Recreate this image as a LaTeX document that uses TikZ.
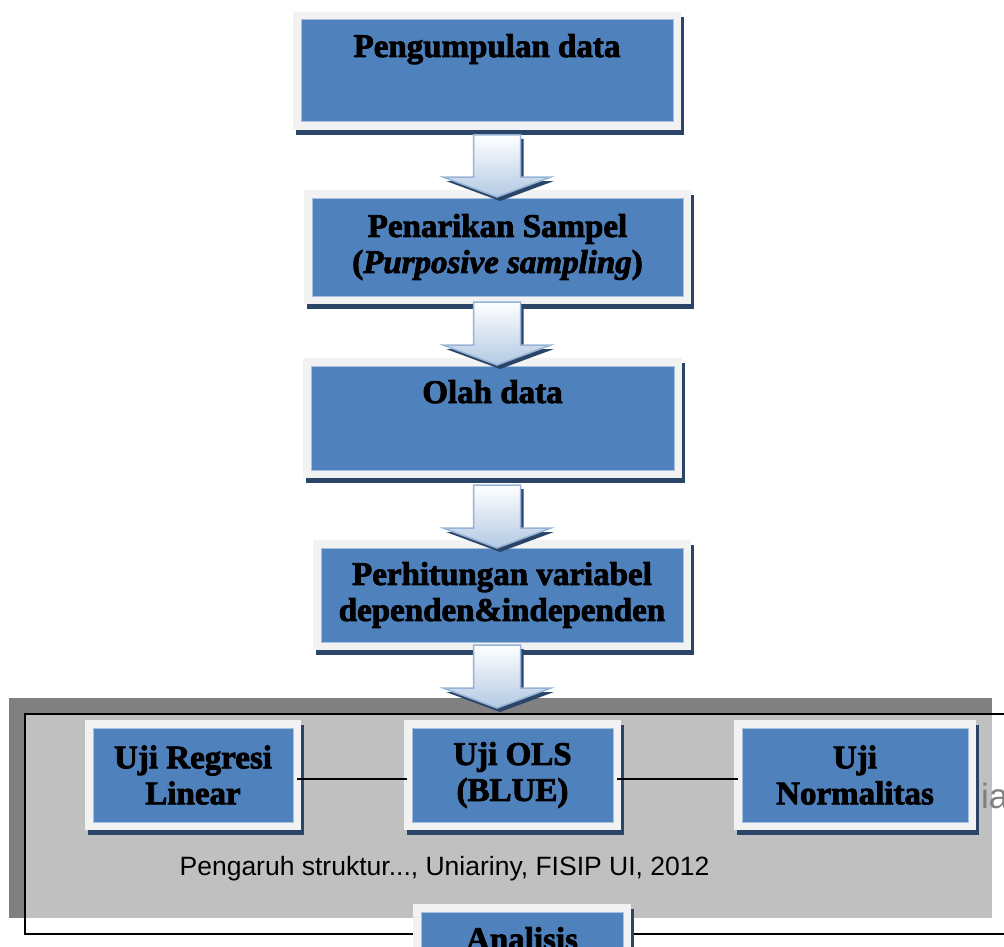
\documentclass[tikz,border=0pt]{standalone}
\usepackage{fontspec}
\setmainfont{Liberation Serif}
\setsansfont{Liberation Sans}
\newfontfamily\boxfamily{Liberation Serif}[BoldFeatures={FakeBold=2.5},BoldItalicFeatures={FakeBold=2.5}]
\usetikzlibrary{calc}
\definecolor{boxblue}{HTML}{4F81BD}
\definecolor{boxrim}{HTML}{F2F2F2}
\definecolor{boxshadow}{HTML}{2A4568}
\definecolor{boxedge}{HTML}{A7BFDE}
\definecolor{arrowline}{HTML}{95B3D7}
\definecolor{arrowfill}{HTML}{B3C9E3}
\definecolor{bgdark}{HTML}{808080}
\definecolor{bglight}{HTML}{C0C0C0}
\newcommand\myblockarrow[4]{%
  \fill[boxshadow, transform canvas={shift={(3pt,-4pt)}}]
    (#1-23.5,#2) -- (#1+23.5,#2) -- (#1+23.5,#3) -- (#1+54,#3) -- (#1,#4) -- (#1-54,#3) -- (#1-23.5,#3) -- cycle;
  \draw[arrowline, line width=1.5pt, line join=miter, top color=white, bottom color=arrowfill]
    (#1-23.5,#2) -- (#1+23.5,#2) -- (#1+23.5,#3) -- (#1+54,#3) -- (#1,#4) -- (#1-54,#3) -- (#1-23.5,#3) -- cycle;
}
\begin{document}
\begin{tikzpicture}[x=1pt,y=-1pt,
  bluebox/.style={rectangle, fill=boxblue, draw=boxedge, line width=1pt, inner sep=0pt, outer sep=0pt,
    align=center, text=black, font=\boxfamily\bfseries\fontsize{33}{36}\selectfont,
    preaction={fill=boxshadow, draw=boxshadow, line width=16pt, transform canvas={shift={(3pt,-5pt)}}},
    preaction={draw=boxrim, line width=16pt}},
  boxtext/.style={inner sep=0pt, text=black, font=\boxfamily\bfseries\fontsize{33}{36}\selectfont},
  conn/.style={draw=black, line width=1.2pt},
  frameline/.style={draw=black, line width=1.5pt}]
\useasboundingbox (0,0) rectangle (1004,947);
\clip (0,0) rectangle (1004,947);
% grey panel and frame
\fill[bgdark] (9,698) rectangle (992,918);
\fill[bglight] (26,714) rectangle (992,918);
\draw[frameline] (1010,714) -- (25,714) -- (25,934) -- (1010,934);
\node[font=\sffamily\fontsize{26.5}{30}\selectfont, anchor=base, inner sep=0pt] (src) at (444.5,875) {Pengaruh struktur..., Uniariny, FISIP UI, 2012};
\node[font=\sffamily\fontsize{35}{40}\selectfont, text=bgdark, anchor=base west, inner sep=0pt] (cut) at (981,808) {ia};
% main column
\node[bluebox, minimum width=372pt, minimum height=102pt] (b1) at (487,71) {};
\node[boxtext, anchor=base] (t1) at ($(b1.north)+(0,37)$) {Pengumpulan data};
\node[bluebox, minimum width=371pt, minimum height=98pt] (b2) at (497.5,247) {Penarikan Sampel\\(\textit{Purposive sampling})};
\node[bluebox, minimum width=363pt, minimum height=104pt] (b3) at (492.5,418) {};
\node[boxtext, anchor=base] (t3) at ($(b3.north)+(0,37)$) {Olah data};
\node[bluebox, minimum width=362pt, minimum height=94pt] (b4) at (502,595) {Perhitungan variabel\\dependen\&independen};
% bottom row
\node[bluebox, minimum width=200pt, minimum height=94pt] (u1) at (193,775) {Uji Regresi\\Linear};
\node[bluebox, minimum width=201pt, minimum height=94pt] (u2) at (512.5,775) {Uji OLS\\(BLUE)};
\node[bluebox, minimum width=226pt, minimum height=94pt] (u3) at (855,775) {Uji\\Normalitas};
\node[bluebox, minimum width=202pt, minimum height=94pt] (an) at (522,959) {};
\node[boxtext, anchor=base] (ta) at ($(an.north)+(0,38)$) {Analisis};
% arrows
\myblockarrow{497}{135}{177}{197}
\myblockarrow{497}{302}{345}{365}
\myblockarrow{497}{485}{528}{548}
\myblockarrow{497}{645}{688}{708}
% connectors
\draw[conn] ([xshift=4pt,yshift=-4pt]u1.east) -- ([xshift=-5pt,yshift=-4pt]u2.west);
\draw[conn] ([xshift=4pt,yshift=-4pt]u2.east) -- ([xshift=-4pt,yshift=-4pt]u3.west);
\end{tikzpicture}
\end{document}
